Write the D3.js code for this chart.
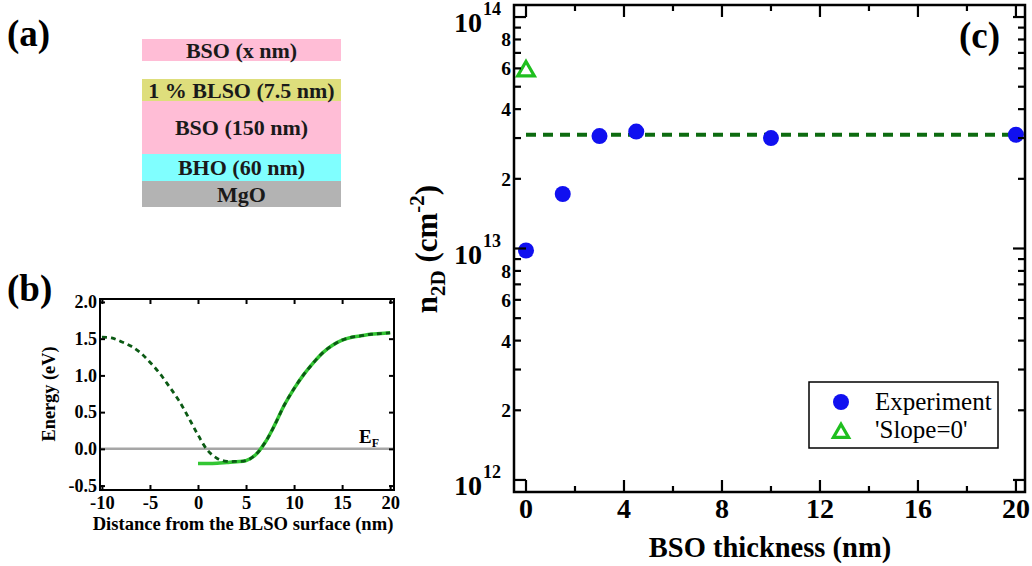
<!DOCTYPE html>
<html>
<head>
<meta charset="utf-8">
<script src="https://cdn.jsdelivr.net/npm/d3@7"></script>
<style>
body { margin: 0; background: #fff; }
svg, text, tspan { font-family: "Liberation Serif", "Times New Roman", serif; }
</style>
</head>
<body>
<div id="fig"></div>
<script>
// (a) layer stack, top to bottom
var layerNames = ["BSO (x nm)", "1 % BLSO (7.5 nm)", "BSO (150 nm)", "BHO (60 nm)", "MgO"];
var layerColors = ["#ffbdd6", "#dede7c", "#ffbdd6", "#80ffff", "#b3b3b3"];

// (b) conduction band profile
var bandX = [-10, -9, -8, -7, -6, -5, -4, -3, -2, -1, 0, 1, 2, 3, 4, 5, 6, 7, 8, 9, 10,
             11, 12, 13, 14, 15, 16, 17, 18, 19, 20];
var bandDashed = [1.52, 1.51, 1.46, 1.40, 1.31, 1.18, 1.03, 0.85, 0.66, 0.43, 0.19, -0.02, -0.13, -0.17, -0.17, -0.16,
                  -0.08, 0.09, 0.33, 0.60, 0.82, 1.01, 1.17, 1.31, 1.41, 1.48, 1.52, 1.54, 1.56, 1.57, 1.58];
var solidX = [0, 1, 2, 3, 4, 5, 6, 7, 8, 9, 10, 11, 12, 13, 14, 15, 16, 17, 18, 19, 20];
var bandSolid = [-0.20, -0.20, -0.195, -0.185, -0.175, -0.16, -0.08, 0.09, 0.33, 0.60, 0.82,
                 1.01, 1.17, 1.31, 1.41, 1.48, 1.52, 1.54, 1.56, 1.57, 1.58];
var bandXTicks = [-10, -5, 0, 5, 10, 15, 20];
var bandYTicks = [-0.5, 0, 0.5, 1.0, 1.5, 2.0];

// (c) sheet carrier density vs BSO cap thickness
var thickness = [0, 1.5, 3, 4.5, 10, 20];
var n2D = [9.8e12, 1.72e13, 3.06e13, 3.2e13, 3.0e13, 3.1e13];
var slopeX = [0];
var slopeN = [5.9e13];
var fitLevel = 3.1e13;
var thickTicks = [0, 4, 8, 12, 16, 20];
var thickMinor = [2, 6, 10, 14, 18];
var minorLabels = [2, 4, 6, 8];

var W = 1032, H = 566;
var svg = d3.select("#fig").append("svg")
    .attr("width", W).attr("height", H)
    .attr("font-family", "Liberation Serif, Times New Roman, serif");

// ---------- panel labels
[["(a)", 7, 46], ["(b)", 7, 301], ["(c)", 959, 48]].forEach(function (p) {
    svg.append("text").attr("x", p[1]).attr("y", p[2])
        .style("font-size", "37px").style("font-weight", "bold").text(p[0]);
});

// ---------- (a) stack
var stackTop = [39, 79, 101, 154, 181];
var stackH = [22, 22, 53, 27, 26];
var ga = svg.append("g");
ga.selectAll("rect").data(layerNames).enter().append("rect")
    .attr("x", 142).attr("width", 199)
    .attr("y", function (d, i) { return stackTop[i]; })
    .attr("height", function (d, i) { return stackH[i]; })
    .attr("fill", function (d, i) { return layerColors[i]; });
ga.selectAll("text").data(layerNames).enter().append("text")
    .attr("x", 241.5)
    .attr("y", function (d, i) { return stackTop[i] + stackH[i] / 2 + 7.5; })
    .attr("text-anchor", "middle")
    .style("font-size", "22px").style("font-weight", "bold").style("fill", "#1a1a1a")
    .text(function (d) { return d; });

// ---------- (b) band diagram
var xB = d3.scaleLinear().domain([-10.2, 20.4]).range([100, 394]);
var yB = d3.scaleLinear().domain([-0.56, 2.04]).range([490, 299]);
var gb = svg.append("g");

gb.append("line")
    .attr("x1", xB.range()[0]).attr("x2", xB.range()[1])
    .attr("y1", yB(0)).attr("y2", yB(0))
    .attr("stroke", "#a6a6a6").attr("stroke-width", 2.5);

var lineB = d3.line().curve(d3.curveCatmullRom)
    .x(function (d) { return xB(d[0]); })
    .y(function (d) { return yB(d[1]); });

gb.append("path")
    .attr("d", lineB(d3.zip(solidX, bandSolid)))
    .attr("fill", "none").attr("stroke", "#33c633").attr("stroke-width", 3.5);
gb.append("path")
    .attr("d", lineB(d3.zip(bandX, bandDashed)))
    .attr("fill", "none").attr("stroke", "#0b5a14").attr("stroke-width", 2.8)
    .attr("stroke-dasharray", "5,4");

function styleAxis(g, size) {
    g.attr("font-family", null);
    g.select(".domain").remove();
    g.selectAll("line").attr("stroke-width", 2);
    g.selectAll("text").style("font-size", size).style("font-weight", "bold").attr("fill", "#000");
}

gb.append("g").attr("transform", "translate(0,490)")
    .call(d3.axisBottom(xB).tickValues(bandXTicks).tickSize(-5).tickPadding(6)
        .tickFormat(function (d) { return String(d); }))
    .call(styleAxis, "18.5px");
gb.append("g").attr("transform", "translate(0,299)")
    .call(d3.axisTop(xB).tickValues(bandXTicks).tickSize(-5).tickFormat(""))
    .call(styleAxis, "1px");
gb.append("g").attr("transform", "translate(100,0)")
    .call(d3.axisLeft(yB).tickValues(bandYTicks).tickSize(-5).tickPadding(3)
        .tickFormat(function (d) { return d.toFixed(1); }))
    .call(styleAxis, "18px");
gb.append("g").attr("transform", "translate(394,0)")
    .call(d3.axisRight(yB).tickValues(bandYTicks).tickSize(-5).tickFormat(""))
    .call(styleAxis, "1px");

gb.append("rect").attr("x", 100).attr("y", 299).attr("width", 294).attr("height", 191)
    .attr("fill", "none").attr("stroke", "#000").attr("stroke-width", 2);

var ef = gb.append("text").attr("x", 359).attr("y", 443)
    .style("font-weight", "bold").style("font-size", "19px");
ef.append("tspan").text("E");
ef.append("tspan").attr("dy", 4).style("font-size", "12px").text("F");

gb.append("text").attr("x", 243).attr("y", 530).attr("text-anchor", "middle")
    .style("font-size", "18.6px").style("font-weight", "bold")
    .text("Distance from the BLSO surface (nm)");
gb.append("text").attr("transform", "translate(55,394) rotate(-90)").attr("text-anchor", "middle")
    .style("font-size", "18.3px").style("font-weight", "bold")
    .text("Energy (eV)");

// ---------- (c) n2D vs thickness
var xC = d3.scaleLinear().domain([-0.49, 20.37]).range([514, 1025]);
var yC = d3.scaleLog().domain([Math.pow(10, 11.948), Math.pow(10, 14.052)]).range([492, 5]);
var gc = svg.append("g");

var isMajor = function (v) { return Math.abs(Math.log10(v) - Math.round(Math.log10(v))) < 1e-6; };
var mantissa = function (v) { return Math.round(v / Math.pow(10, Math.floor(Math.log10(v) + 1e-9))); };
var yTicks = yC.ticks().filter(function (v) { return v >= 1e12 && v <= 1e14; });

gc.append("line")
    .attr("x1", xC(0)).attr("x2", xC(20))
    .attr("y1", yC(fitLevel)).attr("y2", yC(fitLevel))
    .attr("stroke", "#0d6b10").attr("stroke-width", 4).attr("stroke-dasharray", "10,7");

gc.selectAll(".pt").data(d3.zip(thickness, n2D)).enter().append("circle")
    .attr("class", "pt")
    .attr("cx", function (d) { return xC(d[0]); })
    .attr("cy", function (d) { return yC(d[1]); })
    .attr("r", 8).attr("fill", "#1010f0");

var tri = d3.symbol().type(d3.symbolTriangle);
gc.selectAll(".tri").data(d3.zip(slopeX, slopeN)).enter().append("path")
    .attr("class", "tri")
    .attr("d", tri.size(120)())
    .attr("transform", function (d) { return "translate(" + xC(d[0]) + "," + (yC(d[1]) + 1) + ")"; })
    .attr("fill", "none").attr("stroke", "#1fbf1f").attr("stroke-width", 3.2);

// ticks, all pointing inward
function ticksX(g, y, dir) {
    g.selectAll(null).data(thickTicks.concat(thickMinor)).enter().append("line")
        .attr("x1", function (d) { return xC(d); }).attr("x2", function (d) { return xC(d); })
        .attr("y1", y)
        .attr("y2", function (d) { return y + dir * (thickTicks.indexOf(d) >= 0 ? 12 : 6); })
        .attr("stroke", "#000").attr("stroke-width", 2.2);
}
function ticksY(g, x, dir) {
    g.selectAll(null).data(yTicks).enter().append("line")
        .attr("y1", function (d) { return yC(d); }).attr("y2", function (d) { return yC(d); })
        .attr("x1", x)
        .attr("x2", function (d) { return x + dir * (isMajor(d) ? 12 : 7); })
        .attr("stroke", "#000").attr("stroke-width", 2.2);
}
ticksX(gc, 492, -1);
ticksX(gc, 5, 1);
ticksY(gc, 514, 1);
ticksY(gc, 1025, -1);

gc.append("rect").attr("x", 514).attr("y", 5).attr("width", 511).attr("height", 487)
    .attr("fill", "none").attr("stroke", "#000").attr("stroke-width", 2.5);

gc.selectAll(".xl").data(thickTicks).enter().append("text")
    .attr("class", "xl")
    .attr("x", function (d) { return xC(d); }).attr("y", 518)
    .attr("text-anchor", "middle")
    .style("font-size", "28px").style("font-weight", "bold")
    .text(function (d) { return d; });

var decades = yTicks.filter(isMajor);
var dl = gc.selectAll(".dl").data(decades).enter().append("g").attr("class", "dl");
dl.append("text")
    .attr("x", 482).attr("y", function (d) { return yC(d) + 15; })
    .attr("text-anchor", "end")
    .style("font-size", "28px").style("font-weight", "bold").text("10");
dl.append("text")
    .attr("x", 483).attr("y", function (d) { return yC(d) - 2; })
    .style("font-size", "18px").style("font-weight", "bold")
    .text(function (d) { return Math.round(Math.log10(d)); });

var minors = yTicks.filter(function (v) {
    return minorLabels.indexOf(mantissa(v)) >= 0 && !isMajor(v);
});
gc.selectAll(".ml").data(minors).enter().append("text")
    .attr("class", "ml")
    .attr("x", 511).attr("y", function (d) { return yC(d) + 7; })
    .attr("text-anchor", "end")
    .style("font-size", "19.5px").style("font-weight", "bold")
    .text(function (d) { return mantissa(d); });

gc.append("text").attr("x", 770).attr("y", 557).attr("text-anchor", "middle")
    .style("font-size", "28.5px").style("font-weight", "bold")
    .text("BSO thickness (nm)");

var yl = gc.append("text").attr("transform", "translate(437,249) rotate(-90)")
    .attr("text-anchor", "middle").style("font-size", "31px").style("font-weight", "bold");
yl.append("tspan").text("n");
yl.append("tspan").attr("dy", 8).style("font-size", "21px").text("2D");
yl.append("tspan").attr("dy", -8).text(" (cm");
yl.append("tspan").attr("dy", -13).style("font-size", "21px").text("-2");
yl.append("tspan").attr("dy", 13).text(")");

// legend
var lg = gc.append("g");
lg.append("rect").attr("x", 809).attr("y", 382).attr("width", 189).attr("height", 66)
    .attr("fill", "#fff").attr("stroke", "#000").attr("stroke-width", 1.5);
lg.append("circle").attr("cx", 841).attr("cy", 402).attr("r", 8).attr("fill", "#1010f0");
lg.append("path").attr("d", tri.size(100)()).attr("transform", "translate(841,433)")
    .attr("fill", "none").attr("stroke", "#1fbf1f").attr("stroke-width", 3.2);
lg.append("text").attr("x", 875).attr("y", 410).style("font-size", "25px").text("Experiment");
lg.append("text").attr("x", 875).attr("y", 438).style("font-size", "25px").text("'Slope=0'");
</script>
</body>
</html>
